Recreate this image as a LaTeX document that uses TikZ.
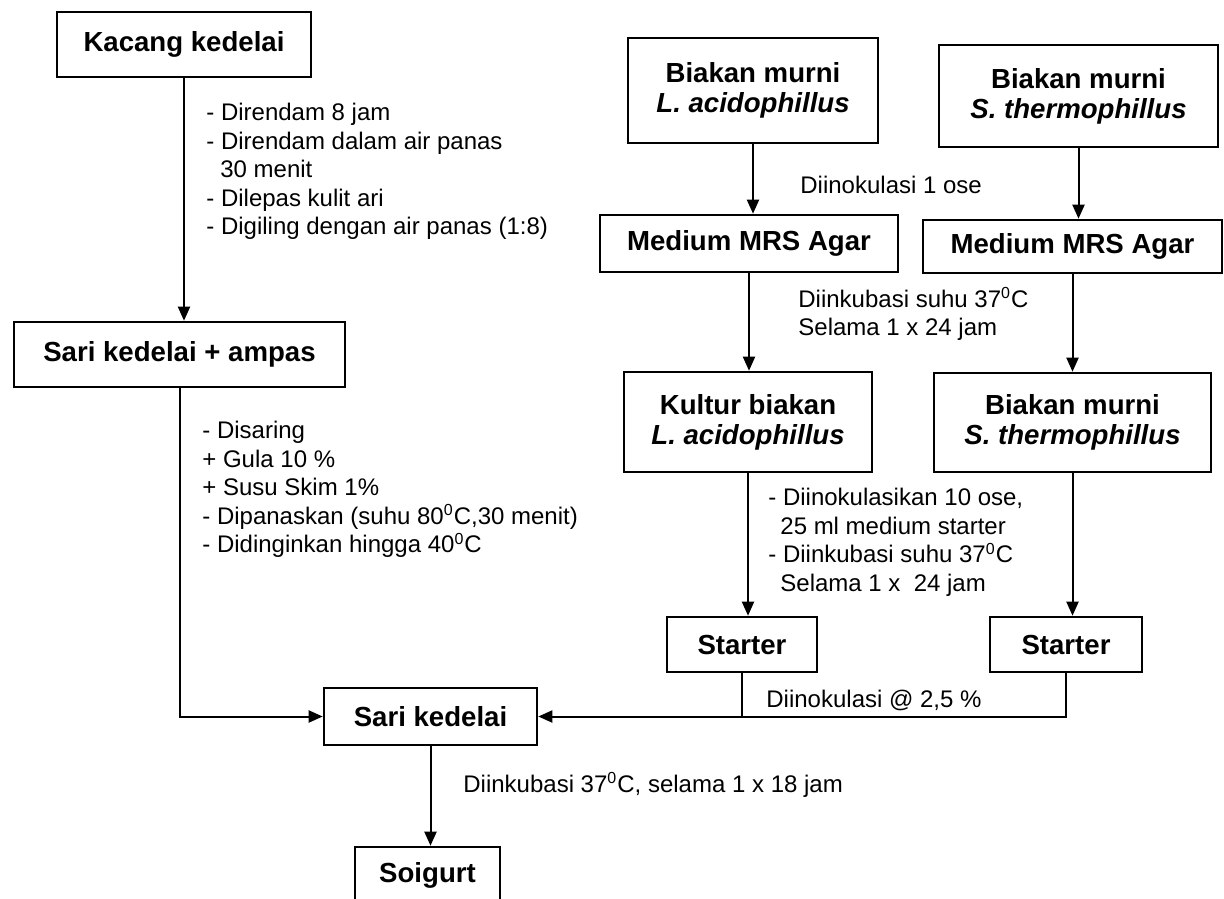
\documentclass[tikz,border=0pt]{standalone}
\usepackage{fontspec}
\setmainfont{Liberation Sans}
\usetikzlibrary{arrows.meta,calc}
\begin{document}
\begin{tikzpicture}[x=0.5pt,y=-0.5pt,
  box/.style={draw,line width=1.3pt,align=center,font=\fontsize{13.8}{15}\selectfont\bfseries,inner sep=0pt},
  note/.style={align=left,font=\fontsize{12}{14.25}\selectfont,inner sep=0pt,anchor=west},
  flow/.style={line width=1pt,-{Triangle[length=7pt,width=6pt]}},
  plain/.style={line width=1pt}]
\useasboundingbox (0,0) rectangle (1224,898);
% boxes
\node[box,minimum width=127pt,minimum height=32.5pt] (kacang) at (184,44.5) {Kacang kedelai};
\node[box,minimum width=165.5pt,minimum height=32.5pt] (ampas) at (179.5,354.5) {Sari kedelai + ampas};
\node[box,minimum width=125pt,minimum height=52.5pt] (biakL) at (753,90.5) {Biakan murni\\\itshape L. acidophillus};
\node[box,minimum width=139.5pt,minimum height=51pt] (biakS) at (1078.5,96) {Biakan murni\\\itshape S. thermophillus};
\node[box,minimum width=149pt,minimum height=28.5pt] (medL) at (749,243.5) {Medium MRS Agar};
\node[box,minimum width=149.5pt,minimum height=26.5pt] (medS) at (1072.5,246.5) {Medium MRS Agar};
\node[box,minimum width=124pt,minimum height=50pt] (kultL) at (748,422) {Kultur biakan\\\itshape L. acidophillus};
\node[box,minimum width=138.5pt,minimum height=49.5pt] (biakS2) at (1072.5,422.5) {Biakan murni\\\itshape S. thermophillus};
\node[box,minimum width=75pt,minimum height=27.5pt] (startL) at (742,644.5) {Starter};
\node[box,minimum width=76pt,minimum height=27.5pt] (startS) at (1066,644.5) {Starter};
\node[box,minimum width=106.5pt,minimum height=28.5pt] (sari) at (430.5,716.5) {Sari kedelai};
\node[box,minimum width=72.5pt,minimum height=28pt] (soigurt) at (427.5,875) {Soigurt};
% connectors
\draw[flow] (kacang.south) -- (kacang.south |- ampas.north);
\draw[flow] (ampas.south) |- (sari.west);
\draw[flow] (biakL.south) -- (biakL.south |- medL.north);
\draw[flow] (biakS.south) -- (biakS.south |- medS.north);
\draw[flow] (medL.south) -- (medL.south |- kultL.north);
\draw[flow] (medS.south) -- (medS.south |- biakS2.north);
\draw[flow] (kultL.south) -- (kultL.south |- startL.north);
\draw[flow] (biakS2.south) -- (biakS2.south |- startS.north);
\draw[plain] (startL.south) -- (startL.south |- sari.east);
\draw[flow] (startS.south) |- (sari.east);
\draw[flow] (sari.south) -- (sari.south |- soigurt.north);
% notes
\node[note] (n1) at (206,171.5) {- Direndam 8 jam\\- Direndam dalam air panas\\\hspace*{7pt}30 menit\\- Dilepas kulit ari\\- Digiling dengan air panas (1:8)};
\node[note] (n2) at (202,489.5) {- Disaring\\+ Gula 10 \%\\+ Susu Skim 1\%\\- Dipanaskan (suhu 80\textsuperscript{0}C,30 menit)\\- Didinginkan hingga 40\textsuperscript{0}C};
\node[note] (n3) at (800,185) {Diinokulasi 1 ose};
\node[note] (n4) at (798,314) {Diinkubasi suhu 37\textsuperscript{0}C\\Selama 1 x 24 jam};
\node[note] (n5) at (768,542.5) {- Diinokulasikan 10 ose,\\\hspace*{6pt}25 ml medium starter\\- Diinkubasi suhu 37\textsuperscript{0}C\\\hspace*{6pt}Selama 1 x\ \ 24 jam};
\node[note] (n6) at (766,700) {Diinokulasi @ 2,5 \%};
\node[note] (n7) at (463,785) {Diinkubasi 37\textsuperscript{0}C, selama 1 x 18 jam};
\end{tikzpicture}
\end{document}
